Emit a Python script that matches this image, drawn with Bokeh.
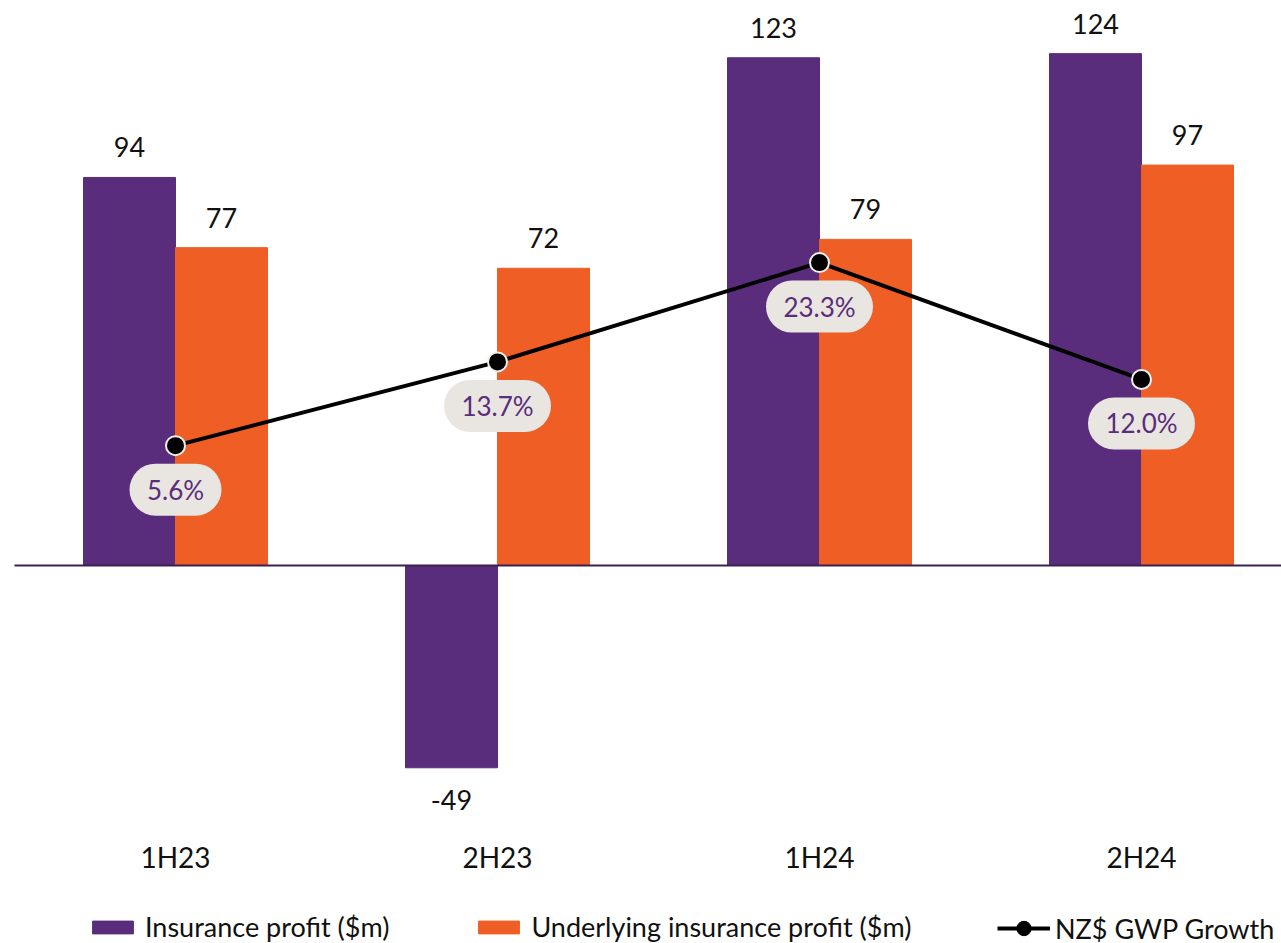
from bokeh.plotting import figure
from bokeh.models import ColumnDataSource, Range1d, Legend, LegendItem
from bokeh.core.properties import value
from bokeh.embed import file_html
from bokeh.resources import INLINE

# ---- data ----
periods = ["1H23", "2H23", "1H24", "2H24"]
insurance_profit = [94, -49, 123, 124]
underlying_profit = [77, 72, 79, 97]
gwp_growth = [5.6, 13.7, 23.3, 12.0]
gwp_labels = ["5.6%", "13.7%", "23.3%", "12.0%"]

PURPLE = "#5a2c7c"
ORANGE = "#ee5e25"
PILL = "#e9e5e0"
FONT = "Lato"

W, H = 1281, 943
idx = list(range(len(periods)))
bar_w = 0.2857
PCT_LO, PCT_HI = -42.55, 48.65
pill_shift = 44 * (PCT_HI - PCT_LO) / H   # 44 px below the point, in % units

p = figure(width=W, height=H, output_backend="svg", toolbar_location=None,
           x_range=Range1d(-0.5435, 3.4348), y_range=Range1d(-91.57, 136.87),
           min_border=0, outline_line_color=None)
p.extra_y_ranges = {"pct": Range1d(PCT_LO, PCT_HI)}
p.xgrid.visible = False
p.ygrid.visible = False
p.xaxis.visible = False
p.yaxis.visible = False
p.background_fill_color = "white"

src = ColumnDataSource(dict(
    x=idx, period=periods, ins=insurance_profit, und=underlying_profit,
    x_ins=[i - bar_w / 2 for i in idx], x_und=[i + bar_w / 2 for i in idx],
    ins_lbl=[str(v) for v in insurance_profit], und_lbl=[str(v) for v in underlying_profit],
    ins_off=[-30 if v >= 0 else 32 for v in insurance_profit],
    und_off=[-30 if v >= 0 else 32 for v in underlying_profit],
    g=gwp_growth, g_lbl=gwp_labels,
    g_pill=[v - pill_shift for v in gwp_growth],
    pill_w=[92 if len(s) < 5 else 107 for s in gwp_labels],
))

r_ins = p.vbar(x="x_ins", top="ins", bottom=0, width=bar_w, color=PURPLE, source=src)
r_und = p.vbar(x="x_und", top="und", bottom=0, width=bar_w, color=ORANGE, source=src)

# baseline
p.segment(x0=[-0.5], x1=[3.44], y0=[0], y1=[0], line_color="#3b2052", line_width=2)

# value labels
for xcol, ycol, lcol, ocol in [("x_ins", "ins", "ins_lbl", "ins_off"), ("x_und", "und", "und_lbl", "und_off")]:
    p.text(x=xcol, y=ycol, text=lcol, y_offset=ocol, source=src, text_align="center",
           text_baseline="middle", text_font=value(FONT), text_font_size="27px", text_color="#111111")

# category labels
p.text(x="x", y=-70.7, text="period", source=src, text_align="center", text_baseline="middle",
       text_font=value(FONT), text_font_size="28px", text_color="#111111")

# growth line
r_line = p.line(x="x", y="g", source=src, y_range_name="pct", line_color="black", line_width=4)
r_pts = p.scatter(x="x", y="g", source=src, y_range_name="pct", size=19, fill_color="black",
                  line_color="#f2efeb", line_width=2)

# pill labels
p.rect(x="x", y="g_pill", width="pill_w", height=52, width_units="screen", height_units="screen",
       source=src, y_range_name="pct", fill_color=PILL, line_color=None, border_radius=26)
p.text(x="x", y="g_pill", text="g_lbl", source=src, y_range_name="pct",
       text_align="center", text_baseline="middle", text_font=value(FONT), text_font_size="26px",
       text_color="#5a2c7c")

# legend-only renderers for the growth series (no visible data)
nan = float("nan")
leg_src = ColumnDataSource(dict(x=[nan], y=[nan]))
r_leg_line = p.line(x="x", y="y", source=leg_src, line_color="black", line_width=4)
r_leg_pt = p.scatter(x="x", y="y", source=leg_src, size=10, fill_color="black", line_color="black")

legend = Legend(items=[
    LegendItem(label="Insurance profit ($m)", renderers=[r_ins]),
    LegendItem(label="Underlying insurance profit ($m)", renderers=[r_und]),
], orientation="horizontal", location=(87, 0), glyph_width=51, glyph_height=16,
    label_standoff=7, spacing=84, padding=0, margin=0, border_line_color=None,
    background_fill_alpha=0, label_text_font=FONT, label_text_font_size="27px",
    label_text_color="#111111", label_height=30)
p.add_layout(legend, "center")

legend2 = Legend(items=[
    LegendItem(label="NZ$ GWP Growth", renderers=[r_leg_line, r_leg_pt]),
], orientation="horizontal", location=(997, -3), glyph_width=53, glyph_height=36,
    label_standoff=5, padding=0, margin=0, border_line_color=None,
    background_fill_alpha=0, label_text_font=FONT, label_text_font_size="27px",
    label_text_color="#111111", label_height=30)
p.add_layout(legend2, "center")

open("out.html", "w").write(file_html(p, INLINE))
